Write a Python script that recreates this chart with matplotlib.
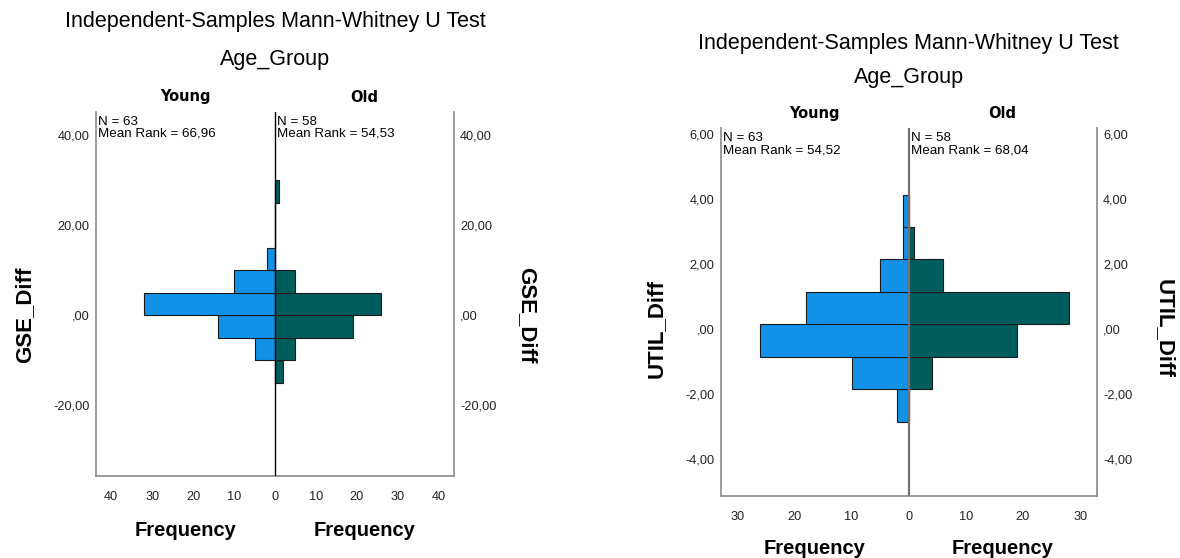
import matplotlib
matplotlib.use('Agg')
import matplotlib.pyplot as plt
import numpy as np

plt.rcParams['font.family'] = ['Liberation Sans', 'DejaVu Sans']

groups = ['Young', 'Old']

gse_bin_lo = [-15, -10, -5, 0, 5, 10, 15, 20, 25]
gse_bin_w = 5
gse_young = [0, 5, 14, 32, 10, 2, 0, 0, 0]
gse_old = [2, 5, 19, 26, 5, 0, 0, 0, 1]
gse_n = [63, 58]
gse_mean_rank = ['66,96', '54,53']
gse_yticks = [-20, 0, 20, 40]
gse_ylabels = ['-20,00', ',00', '20,00', '40,00']
gse_xticks = [0, 10, 20, 30, 40]

util_bin_lo = [-2.86, -1.86, -0.86, 0.14, 1.14, 2.14, 3.14]
util_bin_w = 1.0
util_young = [2, 10, 26, 18, 5, 1, 1]
util_old = [0, 4, 19, 28, 6, 1, 0]
util_n = [63, 58]
util_mean_rank = ['54,52', '68,04']
util_yticks = [-4, -2, 0, 2, 4, 6]
util_ylabels = ['-4,00', '-2,00', ',00', '2,00', '4,00', '6,00']
util_xticks = [0, 10, 20, 30]

BLUE = '#1192e8'
TEAL = '#005d5d'
W, H = 1180, 558


def fx(px):
    return px / W


def fy(py):
    return 1 - py / H


def panel(fig, box, bins, width, young, old, n, ranks, yticks, ylabels,
          xticks, xlim, ylim, varname, title_y, group_y, freq_y, ylab_x,
          center_color, center_lw):
    x0, y0, x1, y1 = box
    ax = fig.add_axes([fx(x0), fy(y1), fx(x1 - x0), (y1 - y0) / H])
    ax.barh(bins, -np.array(young), height=width, align='edge', color=BLUE,
            edgecolor='#1a1a1a', linewidth=0.8, zorder=2)
    ax.barh(bins, old, height=width, align='edge', color=TEAL,
            edgecolor='#1a1a1a', linewidth=0.8, zorder=2)
    ax.axvline(0, color=center_color, lw=center_lw, zorder=3)
    ax.set_xlim(-xlim, xlim)
    ax.set_ylim(*ylim)

    xt = [-t for t in xticks[::-1]] + xticks[1:]
    ax.set_xticks(xt)
    ax.set_xticklabels([str(abs(t)) for t in xt])
    ax.set_yticks(yticks)
    ax.set_yticklabels(ylabels)
    ax.tick_params(axis='x', length=0, pad=11, labelsize=9.2, colors='#222222')
    ax.tick_params(axis='y', length=0, pad=4.5, labelsize=9.2, colors='#222222',
                   labelleft=True, labelright=True)
    ax.spines['top'].set_visible(False)
    for s in ('left', 'right', 'bottom'):
        ax.spines[s].set_color('#8a8a8a')
        ax.spines[s].set_linewidth(1.2)

    xc = (x0 + x1) / 2
    xm = x0 + (x1 - x0) / 2
    fig.text(fx(xc), fy(title_y), 'Independent-Samples Mann-Whitney U Test',
             ha='center', va='center', fontsize=15.5)
    fig.text(fx(xc), fy(group_y), 'Age_Group', ha='center', va='center',
             fontsize=15.5)

    halves = [(x0 + xm) / 2, (xm + x1) / 2]
    starts = [x0, xm]
    for i, g in enumerate(groups):
        fig.text(fx(halves[i]), fy(y0 - 15), g, ha='center', va='center',
                 fontsize=10.5, fontweight='bold', family='DejaVu Sans')
        fig.text(fx(starts[i] + 2), fy(y0 + 4),
                 f'N = {n[i]}\nMean Rank = {ranks[i]}', ha='left', va='top',
                 fontsize=9.6, linespacing=1.0)
        fig.text(fx(halves[i]), fy(freq_y), 'Frequency', ha='center',
                 va='center', fontsize=14.5, fontweight='bold')

    yc = y1 - (0 - ylim[0]) / (ylim[1] - ylim[0]) * (y1 - y0)
    fig.text(fx(ylab_x[0]), fy(yc), varname, ha='center', va='center',
             rotation=90, fontsize=16, fontweight='bold')
    fig.text(fx(ylab_x[1]), fy(yc), varname, ha='center', va='center',
             rotation=-90, fontsize=16, fontweight='bold')
    return ax


fig = plt.figure(figsize=(W / 100, H / 100), dpi=100)

panel(fig, (96, 112, 454, 476), gse_bin_lo, gse_bin_w, gse_young, gse_old,
      gse_n, gse_mean_rank, gse_yticks, gse_ylabels, gse_xticks,
      43.7, (-35.8, 45.2), 'GSE_Diff', 22, 60, 530, (25, 527),
      'black', 1.0)

panel(fig, (720.7, 128.3, 1096.7, 495.7), util_bin_lo, util_bin_w,
      util_young, util_old, util_n, util_mean_rank, util_yticks, util_ylabels,
      util_xticks, 32.9, (-5.14, 6.18), 'UTIL_Diff', 43, 77, 548, (656, 1164),
      '#707070', 1.6)

fig.savefig('out.png', dpi=100)
